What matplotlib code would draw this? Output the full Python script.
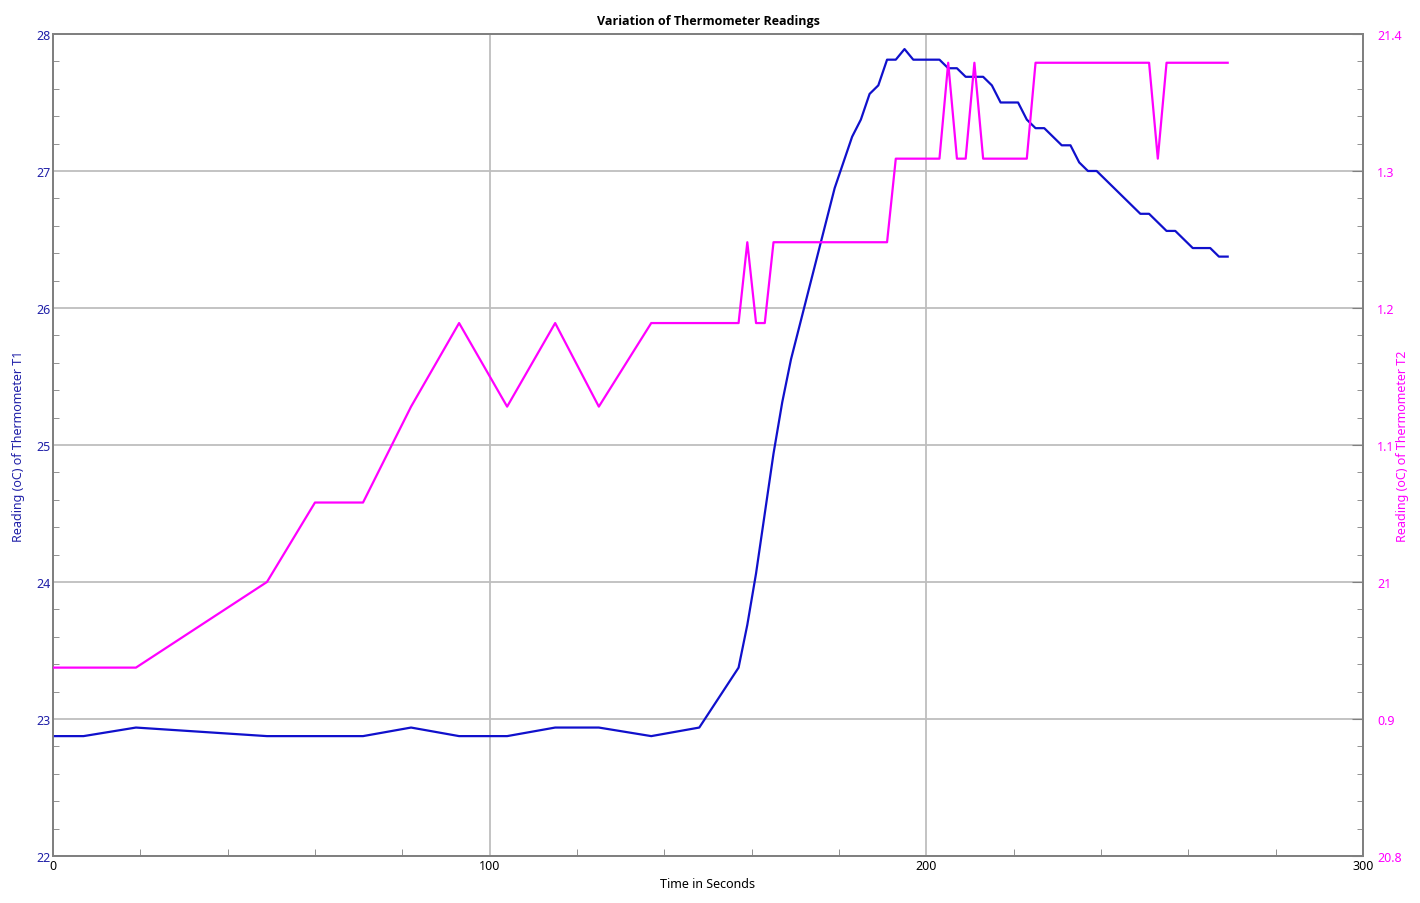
import matplotlib
matplotlib.use("Agg")
import matplotlib.pyplot as plt
from matplotlib.ticker import MultipleLocator, FixedLocator

plt.rcParams['font.family'] = ['Noto Sans', 'DejaVu Sans']

# Time in seconds (shared by both thermometers)
times = [0, 7, 19, 49, 60, 71, 82, 93, 104, 115, 125, 137, 148,
         157, 159, 161, 163, 165, 167, 169, 171, 173, 175, 177, 179,
         181, 183, 185, 187, 189, 191, 193, 195, 197, 199, 201, 203,
         205, 207, 209, 211, 213, 215, 217, 219, 221, 223, 225, 227,
         229, 231, 233, 235, 237, 239, 241, 243, 245, 247, 249, 251,
         253, 255, 257, 259, 261, 263, 265, 267, 269]

# Thermometer T1 readings (left axis)
t1 = [22.875, 22.875, 22.9375, 22.875, 22.875, 22.875, 22.9375, 22.875,
      22.875, 22.9375, 22.9375, 22.875, 22.9375,
      23.375, 23.6875, 24.0625, 24.5, 24.9375, 25.3125, 25.625, 25.875,
      26.125, 26.375, 26.625, 26.875,
      27.0625, 27.25, 27.375, 27.5625, 27.625, 27.8125, 27.8125, 27.89,
      27.8125, 27.8125, 27.8125, 27.8125,
      27.75, 27.75, 27.6875, 27.6875, 27.6875, 27.625, 27.5, 27.5, 27.5,
      27.375, 27.3125, 27.3125,
      27.25, 27.1875, 27.1875, 27.0625, 27.0, 27.0, 26.9375, 26.875,
      26.8125, 26.75, 26.6875, 26.6875,
      26.625, 26.5625, 26.5625, 26.5, 26.4375, 26.4375, 26.4375, 26.375,
      26.375]

# Thermometer T2 readings (right axis)
t2 = [20.9375, 20.9375, 20.9375, 21.0, 21.058, 21.058, 21.128, 21.189,
      21.128, 21.189, 21.128, 21.189, 21.189,
      21.189, 21.248, 21.189, 21.189, 21.248, 21.248, 21.248, 21.248,
      21.248, 21.248, 21.248, 21.248,
      21.248, 21.248, 21.248, 21.248, 21.248, 21.248, 21.309, 21.309,
      21.309, 21.309, 21.309, 21.309,
      21.379, 21.309, 21.309, 21.379, 21.309, 21.309, 21.309, 21.309,
      21.309, 21.309, 21.379, 21.379,
      21.379, 21.379, 21.379, 21.379, 21.379, 21.379, 21.379, 21.379,
      21.379, 21.379, 21.379, 21.379,
      21.309, 21.379, 21.379, 21.379, 21.379, 21.379, 21.379, 21.379,
      21.379]

left_ticks = [22, 23, 24, 25, 26, 27, 28]
right_ticks = [20.8, 20.9, 21.0, 21.1, 21.2, 21.3, 21.4]
right_labels = ["20.8", "0.9", "21", "1.1", "1.2", "1.3", "21.4"]

blue = "#1010CC"
label_blue = "#2020A8"
magenta = "#FF00FF"
spine_gray = "#808080"
grid_gray = "#BEBEBE"

fig = plt.figure(figsize=(14.2, 9.04), dpi=100)
ax = fig.add_axes([0.0373, 0.0520, 0.9226, 0.9093])
ax2 = ax.twinx()

ax.plot(times, t1, color=blue, lw=1.6, zorder=3)
ax2.plot(times, t2, color=magenta, lw=1.6, zorder=3)

ax.set_xlim(0, 300)
ax.set_ylim(22, 28)
ax2.set_ylim(20.8, 21.4)

ax.xaxis.set_major_locator(MultipleLocator(100))
ax.xaxis.set_minor_locator(MultipleLocator(20))
ax.yaxis.set_major_locator(FixedLocator(left_ticks))
ax.yaxis.set_minor_locator(MultipleLocator(0.2))
ax2.yaxis.set_major_locator(FixedLocator(right_ticks))
ax2.yaxis.set_minor_locator(MultipleLocator(0.02))
ax2.set_yticklabels(right_labels)

ax.grid(True, which='major', color=grid_gray, lw=1.3, zorder=0)
ax.set_axisbelow(True)

for a in (ax, ax2):
    for s in a.spines.values():
        s.set_color(spine_gray)
        s.set_linewidth(1.3)

ax.tick_params(axis='x', which='both', direction='in', colors=spine_gray,
               labelcolor='black', labelsize=9, pad=2)
ax.tick_params(axis='x', which='major', length=0)
ax.tick_params(axis='x', which='minor', length=5)
ax.tick_params(axis='y', which='both', direction='in', colors=spine_gray,
               labelcolor=label_blue, labelsize=9, pad=2)
ax.tick_params(axis='y', which='major', length=0)
ax.tick_params(axis='y', which='minor', length=4)
ax2.tick_params(axis='y', which='both', direction='in', colors=spine_gray,
                labelcolor=magenta, labelsize=9, pad=10)
ax2.tick_params(axis='y', which='major', length=8)
ax2.tick_params(axis='y', which='minor', length=4)

ax.set_title("Variation of Thermometer Readings", fontsize=9,
             fontweight='bold', family=['Open Sans', 'DejaVu Sans'], pad=7)
ax.set_xlabel("Time in Seconds", fontsize=9, labelpad=4)
ax.set_ylabel("Reading (oC) of Thermometer T1", fontsize=9,
              color=label_blue, labelpad=8)
ax2.set_ylabel("Reading (oC) of Thermometer T2", fontsize=9,
               color=magenta, labelpad=-4)

fig.savefig("out.png", dpi=100)
